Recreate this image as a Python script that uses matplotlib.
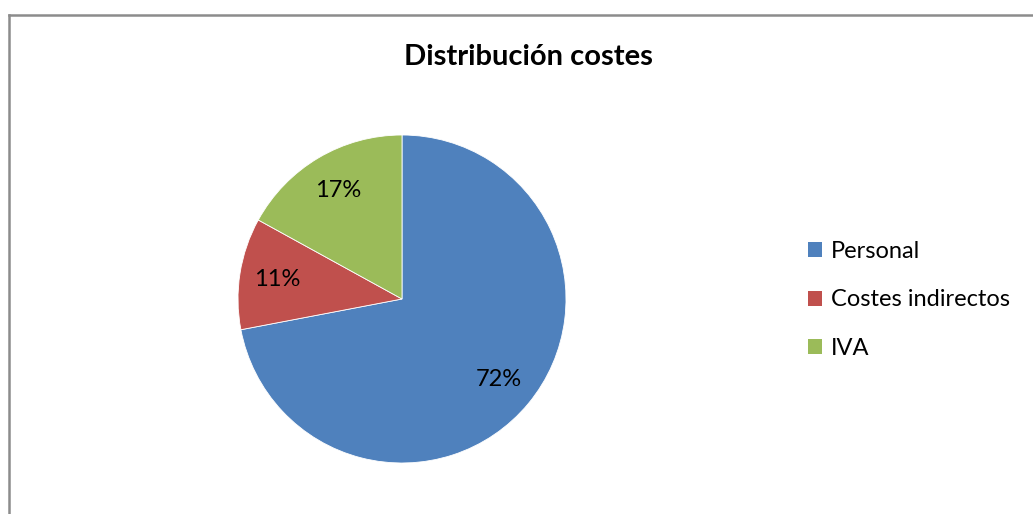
import matplotlib.pyplot as plt
from matplotlib.patches import Patch
from matplotlib.lines import Line2D

labels = ['Personal', 'Costes indirectos', 'IVA']
values = [72, 11, 17]
colors = ['#4F81BD', '#C0504D', '#9BBB59']

plt.rcParams['font.family'] = ['Lato', 'DejaVu Sans']

W, H = 1033, 514
fig = plt.figure(figsize=(W / 100, H / 100), dpi=100)

# chart frame (only left and top edges visible in the picture)
fig.add_artist(Line2D([9 / W, 9 / W], [0, 1 - 15 / H], color='#8c8c8c', lw=1.8,
                      transform=fig.transFigure))
fig.add_artist(Line2D([9 / W, 1], [1 - 15 / H, 1 - 15 / H], color='#8c8c8c', lw=1.8,
                      transform=fig.transFigure))

cx, cy, r = 402, 299, 164
ax = fig.add_axes([(cx - r) / W, (H - cy - r) / H, 2 * r / W, 2 * r / H])
ax.pie(values, colors=colors, startangle=90, counterclock=False,
       autopct='%1.0f%%', pctdistance=0.77,
       wedgeprops=dict(linewidth=0.6, edgecolor='white'),
       textprops=dict(fontsize=17, color='black'))
ax.set_xlim(-1, 1)
ax.set_ylim(-1, 1)
ax.set_aspect('equal')

fig.text(528 / W, 1 - 57 / H, 'Distribución costes', ha='center', va='center',
         fontsize=21, fontweight='bold')

handles = [Patch(facecolor=c, edgecolor='none') for c in colors]
fig.legend(handles, labels, loc='center left', bbox_to_anchor=(808 / W, 1 - 300 / H),
           frameon=False, fontsize=17, handlelength=0.6, handleheight=0.6,
           handletextpad=0.38, labelspacing=1.16, borderpad=0, borderaxespad=0)

fig.savefig('out.png', dpi=100)
